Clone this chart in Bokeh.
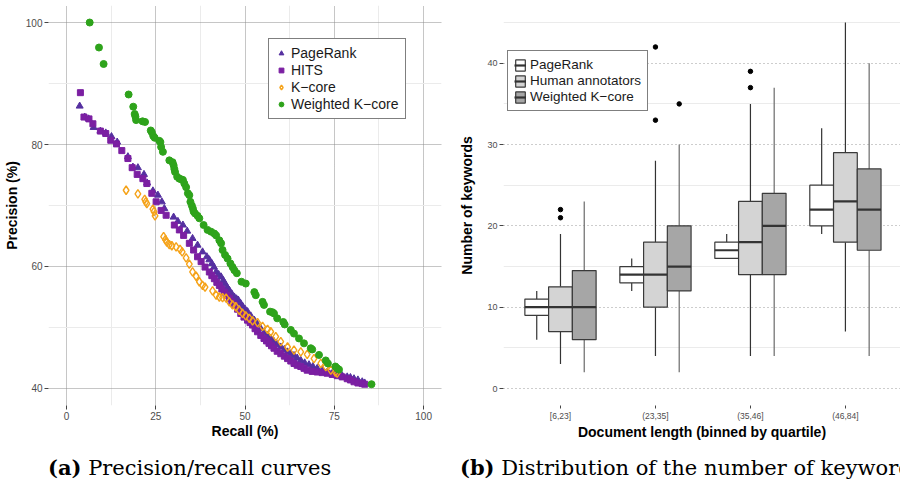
from bokeh.plotting import figure
from bokeh.models import FixedTicker, Legend, LegendItem, Div, Range1d
from bokeh.layouts import column, row
from bokeh.embed import file_html
from bokeh.resources import INLINE

# ---------------- (a) precision / recall data ----------------
pr_recall = [3.7, 5.1, 6.2, 7.6, 9.5, 11.0, 12.6, 14.2, 17.2, 18.6, 20.0, 21.7, 22.6,
             24.2, 25.6, 26.7, 27.4, 30.0, 31.2, 32.6, 33.8, 35.3, 36.7, 38.1, 39.3,
             40.0, 40.7, 41.3, 41.9, 42.6, 43.3, 43.9, 44.4, 45.0, 45.6, 46.3, 47.0,
             47.6, 48.1, 48.7, 49.3, 50.0, 50.7, 51.6, 52.6, 53.5, 54.4, 55.3, 56.3,
             57.2, 58.1, 59.0, 60.0, 61.0, 61.9, 62.8, 63.7, 64.6, 65.6, 66.7, 67.9,
             69.0, 70.2, 71.6, 73.0, 74.4, 75.8, 77.2, 78.6, 79.5, 80.5, 81.6, 82.8, 83.5]
pr_precision = [86.3, 84.5, 84.2, 82.8, 82.2, 81.9, 81.3, 80.4, 78.0, 76.3, 76.2, 75.1, 73.7,
                72.4, 71.7, 70.6, 69.5, 68.1, 67.4, 66.8, 65.8, 64.6, 63.5, 62.4, 61.6,
                61.1, 60.5, 59.9, 59.1, 58.7, 58.3, 57.7, 57.2, 56.6, 56.1, 55.5, 55.0,
                54.7, 54.5, 54.0, 53.5, 53.0, 52.6, 51.9, 51.2, 50.5, 49.8, 49.2, 48.7,
                48.2, 47.7, 47.2, 46.8, 46.4, 46.0, 45.7, 45.4, 45.0, 44.6, 44.2, 43.9,
                43.6, 43.3, 43.0, 42.7, 42.5, 42.3, 42.1, 41.9, 41.8, 41.6, 41.4, 41.1, 40.9]

hits_recall = [3.9, 4.9, 6.3, 7.4, 9.5, 11.0, 12.4, 14.0, 15.5, 17.2, 18.4, 19.8, 21.4,
               22.5, 23.9, 25.1, 26.5, 27.9, 30.2, 31.6, 32.8, 34.4, 35.6, 36.7, 37.7,
               38.8, 40.0, 40.7, 41.4, 42.1, 42.8, 43.5, 44.2, 44.9, 45.6, 46.3, 47.0,
               47.9, 48.8, 49.7, 50.7, 51.4, 52.1, 52.8, 53.5, 54.4, 55.3, 56.0, 56.7,
               57.4, 58.1, 59.0, 60.0, 61.0, 61.9, 62.8, 63.7, 64.6, 65.6, 66.5, 67.4,
               68.8, 70.2, 71.6, 73.0, 74.4, 75.8, 77.2, 78.6, 79.5, 80.5, 81.6, 82.8, 83.5]
hits_precision = [88.5, 84.5, 84.2, 83.4, 82.2, 81.8, 80.7, 80.1, 79.0, 77.7, 76.2, 75.1, 74.4,
                  73.6, 72.0, 70.6, 69.2, 68.4, 66.8, 66.0, 65.1, 63.8, 62.7, 61.6, 60.8,
                  59.9, 59.1, 58.5, 58.0, 57.4, 56.9, 56.3, 55.8, 55.3, 54.8, 54.2, 53.7,
                  53.0, 52.3, 51.7, 51.2, 50.8, 50.4, 49.8, 49.3, 48.7, 48.2, 47.8, 47.4,
                  47.0, 46.6, 46.1, 45.7, 45.3, 44.9, 44.5, 44.1, 43.8, 43.6, 43.3, 43.0,
                  42.8, 42.7, 42.6, 42.5, 42.3, 42.1, 41.9, 41.6, 41.4, 41.1, 40.9, 40.8, 40.7]

kc_recall = [16.7, 20.0, 21.9, 22.2, 22.5, 24.2, 24.5, 24.8, 27.2, 27.7, 28.1, 28.8, 29.5,
             30.7, 31.8, 32.4, 33.5, 34.4, 35.3, 36.3, 37.2, 38.1, 38.8, 40.9, 41.9,
             42.8, 43.7, 44.7, 45.6, 46.5, 47.4, 48.4, 49.3, 50.2, 51.2, 52.1, 53.5,
             54.9, 56.3, 57.2, 58.6, 60.0, 61.9, 63.7, 65.6, 67.4, 69.3, 71.2, 72.6,
             74.0, 75.3, 75.8]
kc_precision = [72.5, 71.9, 71.0, 70.6, 70.3, 69.4, 69.0, 68.3, 64.9, 64.4, 64.0, 63.6, 63.4,
                63.2, 62.8, 62.4, 61.4, 60.4, 59.1, 58.4, 57.5, 56.9, 56.6, 56.0, 55.3,
                55.0, 54.9, 54.8, 54.2, 53.7, 53.4, 52.8, 52.3, 51.9, 51.5, 51.1, 50.8,
                50.2, 49.7, 49.3, 48.5, 47.7, 46.8, 46.3, 46.0, 45.6, 44.9, 44.1, 43.6,
                43.0, 42.7, 42.5]

wk_recall = [6.5, 9.1, 10.4, 17.4, 18.7, 19.1, 19.3, 19.5, 21.3, 22.0, 23.6, 23.9, 24.3,
             24.7, 26.0, 26.3, 26.5, 27.0, 28.8, 29.7, 30.0, 30.2, 30.4, 31.0, 31.6,
             32.1, 32.6, 33.0, 33.5, 34.0, 34.4, 34.7, 35.1, 35.4, 35.6, 36.0, 36.7,
             37.2, 38.4, 39.5, 40.5, 41.4, 41.9, 42.8, 43.3, 43.7, 44.4, 45.1, 45.9,
             46.5, 47.0, 47.7, 49.0, 50.2, 52.6, 53.0, 54.9, 55.3, 57.0, 57.7, 58.1,
             59.0, 60.7, 61.1, 62.8, 63.7, 65.1, 66.5, 68.4, 68.8, 70.7, 72.6, 73.2,
             75.3, 75.8, 76.3, 85.4]
wk_precision = [100.0, 95.9, 93.2, 88.2, 86.2, 85.0, 84.6, 84.0, 83.8, 83.7, 82.3, 82.0, 81.4,
                81.1, 80.6, 80.4, 79.6, 78.8, 77.4, 77.1, 76.6, 76.0, 75.5, 74.7, 74.4,
                74.3, 74.2, 73.6, 73.0, 72.0, 71.7, 70.6, 70.0, 69.5, 69.0, 68.7, 68.3,
                67.9, 66.8, 66.0, 65.7, 65.4, 65.1, 64.3, 63.8, 62.7, 61.9, 61.3, 60.5,
                59.9, 59.4, 58.9, 57.5, 57.2, 55.8, 55.3, 54.2, 53.7, 52.6, 52.5, 52.3,
                51.5, 50.9, 50.5, 49.6, 49.0, 48.2, 47.4, 46.6, 46.4, 45.5, 44.6, 44.1,
                43.6, 43.3, 43.1, 40.7]

recall_ticks = [0, 25, 50, 75, 100]
recall_minor = [12.5, 37.5, 62.5, 87.5]
precision_ticks = [40, 60, 80, 100]
precision_minor = [50, 70, 90]

# ---------------- (b) box plot data ----------------
cats = ["[6,23]", "(23,35]", "(35,46]", "(46,84]"]
series_names = ["PageRank", "Human annotators", "Weighted K\u2212core"]
pr_low = [6, 12, 16, 19]
pr_q1 = [9, 13, 16, 20]
pr_med = [10, 14, 17, 22]
pr_q3 = [11, 15, 18, 25]
pr_high = [12, 16, 19, 32]
hu_low = [3, 4, 4, 7]
hu_q1 = [7, 10, 14, 18]
hu_med = [10, 14, 18, 23]
hu_q3 = [12.5, 18, 23, 29]
hu_high = [19, 28, 35, 45]
wk_low = [2, 2, 4, 4]
wk_q1 = [6, 12, 14, 17]
wk_med = [10, 15, 20, 22]
wk_q3 = [14.5, 20, 24, 27]
wk_high = [23, 30, 37, 40]
hu_out_cat = [1, 1, 2, 2, 3, 3]
hu_out_val = [21, 22, 33, 42, 37, 39]
wk_out_cat = [2]
wk_out_val = [35]
kw_ticks = [0, 10, 20, 30, 40]
kw_minor = [5, 15, 25, 35, 45]

caption_a = ("(a)", "Precision/recall curves")
caption_b = ("(b)", "Distribution of the number of keywords")

FONT = "Liberation Sans"

# ================= figure (a) =================
p1 = figure(width=450, height=448, x_range=Range1d(-5.03, 105.0), y_range=Range1d(37.21, 102.79),
            output_backend="svg", toolbar_location=None,
            min_border_left=47, min_border_right=9, min_border_top=5, min_border_bottom=43)
p1.outline_line_color = None
p1.xaxis.ticker = FixedTicker(ticks=recall_ticks, minor_ticks=recall_minor)
p1.yaxis.ticker = FixedTicker(ticks=precision_ticks, minor_ticks=precision_minor)
for g in (p1.xgrid, p1.ygrid):
    g.grid_line_color = "#8c8c8c"
    g.grid_line_dash = "1 1"
    g.grid_line_width = 1
    g.minor_grid_line_color = "#ebebeb"
    g.minor_grid_line_width = 1
p1.xaxis.axis_label = "Recall (%)"
p1.yaxis.axis_label = "Precision (%)"

r_pr = p1.scatter(pr_recall, pr_precision, marker="triangle", size=7, color="#5530a0")
r_hits = p1.scatter(hits_recall, hits_precision, marker="square", size=6, color="#7b1fa2")
r_kc = p1.scatter(kc_recall, kc_precision, marker="diamond", size=8.5, fill_color=None,
                  line_color="#f5a31a", line_width=1.4)
r_wk = p1.scatter(wk_recall, wk_precision, marker="circle", size=7, color="#2ea31b")

leg1 = Legend(items=[LegendItem(label="PageRank", renderers=[r_pr]),
                     LegendItem(label="HITS", renderers=[r_hits]),
                     LegendItem(label="K\u2212core", renderers=[r_kc]),
                     LegendItem(label="Weighted K\u2212core", renderers=[r_wk])],
              location=(220, 286))
p1.add_layout(leg1)

# ================= figure (b) =================
p2 = figure(width=450, height=448, x_range=Range1d(0.4, 4.58), y_range=Range1d(-2.09, 47.1),
            output_backend="svg", toolbar_location=None,
            min_border_left=53, min_border_right=0, min_border_top=5, min_border_bottom=43)
p2.outline_line_color = None
p2.xaxis.ticker = FixedTicker(ticks=[i + 1 for i in range(len(cats))])
p2.xaxis.major_label_overrides = {i + 1: c for i, c in enumerate(cats)}
p2.yaxis.ticker = FixedTicker(ticks=kw_ticks, minor_ticks=kw_minor)
p2.xgrid.visible = False
p2.ygrid.grid_line_color = "#9a9a9a"
p2.ygrid.grid_line_dash = "1 3"
p2.ygrid.minor_grid_line_color = "#ebebeb"
p2.xaxis.axis_label = "Document length (binned by quartile)"
p2.yaxis.axis_label = "Number of keywords"

stats = [(pr_low, pr_q1, pr_med, pr_q3, pr_high),
         (hu_low, hu_q1, hu_med, hu_q3, hu_high),
         (wk_low, wk_q1, wk_med, wk_q3, wk_high)]
fills = ["#ffffff", "#d4d4d4", "#a6a6a6"]
whisker_cols = ["#333333", "#333333", "#6a6a6a"]
offsets = [-0.25, 0.0, 0.25]
bw = 0.25
items2 = []
for k, (lo, q1, med, q3, hi) in enumerate(stats):
    xs = [i + 1 + offsets[k] for i in range(len(cats))]
    p2.segment(x0=xs, y0=q3, x1=xs, y1=hi, line_color=whisker_cols[k], line_width=1.2)
    p2.segment(x0=xs, y0=lo, x1=xs, y1=q1, line_color=whisker_cols[k], line_width=1.2)
    rb = p2.vbar(x=xs, width=bw, bottom=q1, top=q3, fill_color=fills[k],
                 line_color="#3a3a3a", line_width=1.2)
    rm = p2.segment(x0=[x - bw / 2 for x in xs], y0=med, x1=[x + bw / 2 for x in xs], y1=med,
                    line_color="#333333", line_width=2.2)
    items2.append(LegendItem(label=series_names[k], renderers=[rb, rm]))

p2.scatter([c + offsets[1] for c in hu_out_cat], hu_out_val, marker="circle", size=4.5, color="black")
p2.scatter([c + offsets[2] for c in wk_out_cat], wk_out_val, marker="circle", size=4.5, color="black")

leg2 = Legend(items=items2, location=(4, 294))
p2.add_layout(leg2)

for p in (p1, p2):
    for ax in (p.xaxis, p.yaxis):
        ax.axis_line_color = None
        ax.major_tick_line_color = "#444444"
        ax.major_tick_out = 4
        ax.major_tick_in = 0
        ax.minor_tick_line_color = None
        ax.major_label_text_font = FONT
        ax.major_label_text_color = "#4d4d4d"
        ax.major_label_standoff = 2
        ax.axis_label_text_font = FONT
        ax.axis_label_text_font_style = "bold"
        ax.axis_label_text_font_size = "14px"
        ax.axis_label_text_color = "#000000"
        ax.axis_label_standoff = 3
    p.xaxis.axis_label_standoff = 0
    p.background_fill_color = "white"
p2.yaxis.axis_label_standoff = 9
p1.xaxis.major_label_text_font_size = "10px"
p1.yaxis.major_label_text_font_size = "10px"
p2.xaxis.major_label_text_font_size = "8.5px"
p2.yaxis.major_label_text_font_size = "9px"
p2.xaxis.major_tick_out = 3

for lg, fs in ((leg1, "14px"), (leg2, "13.5px")):
    lg.border_line_color = "black"
    lg.border_line_width = 1
    lg.background_fill_color = "white"
    lg.background_fill_alpha = 1
    lg.label_text_font = FONT
    lg.label_text_font_size = fs
    lg.label_text_color = "#1a1a1a"
    lg.glyph_height = 14
    lg.glyph_width = 12
    lg.label_height = 14
    lg.spacing = 1
    lg.padding = 6
    lg.margin = 0
    lg.label_standoff = 4

cap_html = ('<span style="display:inline-block;width:412px;margin-left:43px">'
            '<b>%s</b> %s</span><span><b>%s</b> %s</span>'
            % (caption_a[0], caption_a[1], caption_b[0], caption_b[1]))
div_cap = Div(text=cap_html, width=900, height=41,
              styles={"font-family": "DejaVu Serif", "font-size": "21px",
                      "white-space": "nowrap", "overflow": "hidden",
                      "padding-top": "0px", "color": "#000"})

layout = column(row(p1, p2), div_cap)
open("out.html", "w").write(file_html(layout, INLINE))
